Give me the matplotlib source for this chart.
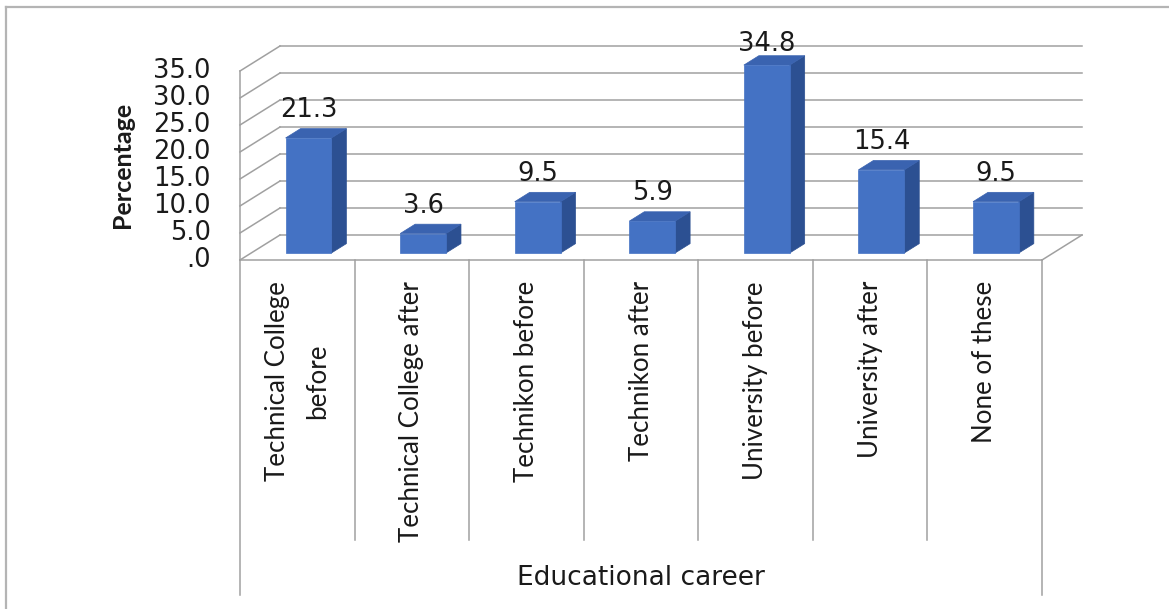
import matplotlib.pyplot as plt
from matplotlib.patches import Polygon
from matplotlib.lines import Line2D

categories = ['Technical College\nbefore', 'Technical College after', 'Technikon before',
              'Technikon after', 'University before', 'University after', 'None of these']
values = [21.3, 3.6, 9.5, 5.9, 34.8, 15.4, 9.5]
yticks = [0, 5, 10, 15, 20, 25, 30, 35]
ytick_labels = ['.0', '5.0', '10.0', '15.0', '20.0', '25.0', '30.0', '35.0']

W, H = 1169, 609
# front plane layout in pixels
X0, CAT_W = 240, 802 / 7
Y0, PX_PER_UNIT = 260, 5.4
# depth of the box (full wall) in data units
DX, DY = 40 / CAT_W, 25 / PX_PER_UNIT
# bar depth span and width
D0, D1 = 0.28, 0.655
BAR_W = 0.40

GRID = '#a0a0a0'
FRONT, SIDE, TOP = '#4472c4', '#2c5092', '#3a63b0'
TXT = '#1a1a1a'


def P(x, v, d):
    return (x + d * DX, v + d * DY)


fig = plt.figure(figsize=(W / 100, H / 100), dpi=100)
ax = fig.add_axes([0, 0, 1, 1])
ax.set_xlim(-0.5 - X0 / CAT_W, -0.5 + (W - X0) / CAT_W)
ax.set_ylim((Y0 - H) / PX_PER_UNIT, Y0 / PX_PER_UNIT)
ax.axis('off')

n = len(categories)
left, right = -0.5, n - 0.5

# back wall gridlines and side wall lines
for v in yticks:
    ax.plot(*zip(P(left, v, 1), P(right, v, 1)), color=GRID, lw=1.1, zorder=1)
    ax.plot(*zip(P(left, v, 0), P(left, v, 1)), color=GRID, lw=1.1, zorder=1)
# front vertical axis
ax.plot(*zip(P(left, 0, 0), P(left, yticks[-1], 0)), color=GRID, lw=1.1, zorder=1)
# floor edges
ax.plot(*zip(P(left, 0, 0), P(right, 0, 0)), color=GRID, lw=1.1, zorder=1)
ax.plot(*zip(P(right, 0, 0), P(right, 0, 1)), color=GRID, lw=1.1, zorder=1)

# y tick labels
for v, lab in zip(yticks, ytick_labels):
    ax.annotate(lab, P(left, v, 0), xytext=(-21, 0), textcoords='offset points',
                ha='right', va='center', fontsize=18.5, family='DejaVu Sans', color=TXT)

# bars
for i, v in enumerate(values):
    xl, xr = i - BAR_W / 2, i + BAR_W / 2
    front = [P(xl, 0, D0), P(xr, 0, D0), P(xr, v, D0), P(xl, v, D0)]
    side = [P(xr, 0, D0), P(xr, 0, D1), P(xr, v, D1), P(xr, v, D0)]
    top = [P(xl, v, D0), P(xr, v, D0), P(xr, v, D1), P(xl, v, D1)]
    ax.add_patch(Polygon(side, closed=True, fc=SIDE, ec=SIDE, lw=0.5, zorder=3))
    ax.add_patch(Polygon(top, closed=True, fc=TOP, ec=TOP, lw=0.5, zorder=3))
    ax.add_patch(Polygon(front, closed=True, fc=FRONT, ec=FRONT, lw=0.5, zorder=4))
    lx, ly = P(i, min(v, 33.5), D0)
    ax.annotate(f'{v:.1f}', (lx, ly), xytext=(0, 20), textcoords='offset points',
                ha='center', va='center', fontsize=18.5, family='DejaVu Sans', color=TXT)

# category separators below the floor
bottom_long = (Y0 - 595) / PX_PER_UNIT
bottom_short = (Y0 - 540) / PX_PER_UNIT
for k in range(n + 1):
    yb = bottom_long if k in (0, n) else bottom_short
    ax.plot([k - 0.5, k - 0.5], [0, yb], color=GRID, lw=1.1, zorder=1)

# category labels
label_top = (Y0 - 281) / PX_PER_UNIT
for i, cat in enumerate(categories):
    ax.text(i, label_top, cat, rotation=90, ha='center', va='top', ma='center',
            fontsize=18.6, family='Lato', color=TXT, linespacing=1.75)

fig.text(641 / W, 1 - 578 / H, 'Educational career', ha='center', va='center',
         fontsize=19, family='DejaVu Sans', color=TXT)
fig.text(123 / W, 1 - 165 / H, 'Percentage', rotation=90, ha='center', va='center',
         fontsize=18, family='Lato', fontweight='bold', color=TXT)

# outer frame (top and left edges)
fig.add_artist(Line2D([6 / W, 1], [1 - 7 / H, 1 - 7 / H], transform=fig.transFigure,
                      color='#b4b4b4', lw=1.6))
fig.add_artist(Line2D([6 / W, 6 / W], [0, 1 - 7 / H], transform=fig.transFigure,
                      color='#b4b4b4', lw=1.6))

fig.savefig('out.png', dpi=100)
